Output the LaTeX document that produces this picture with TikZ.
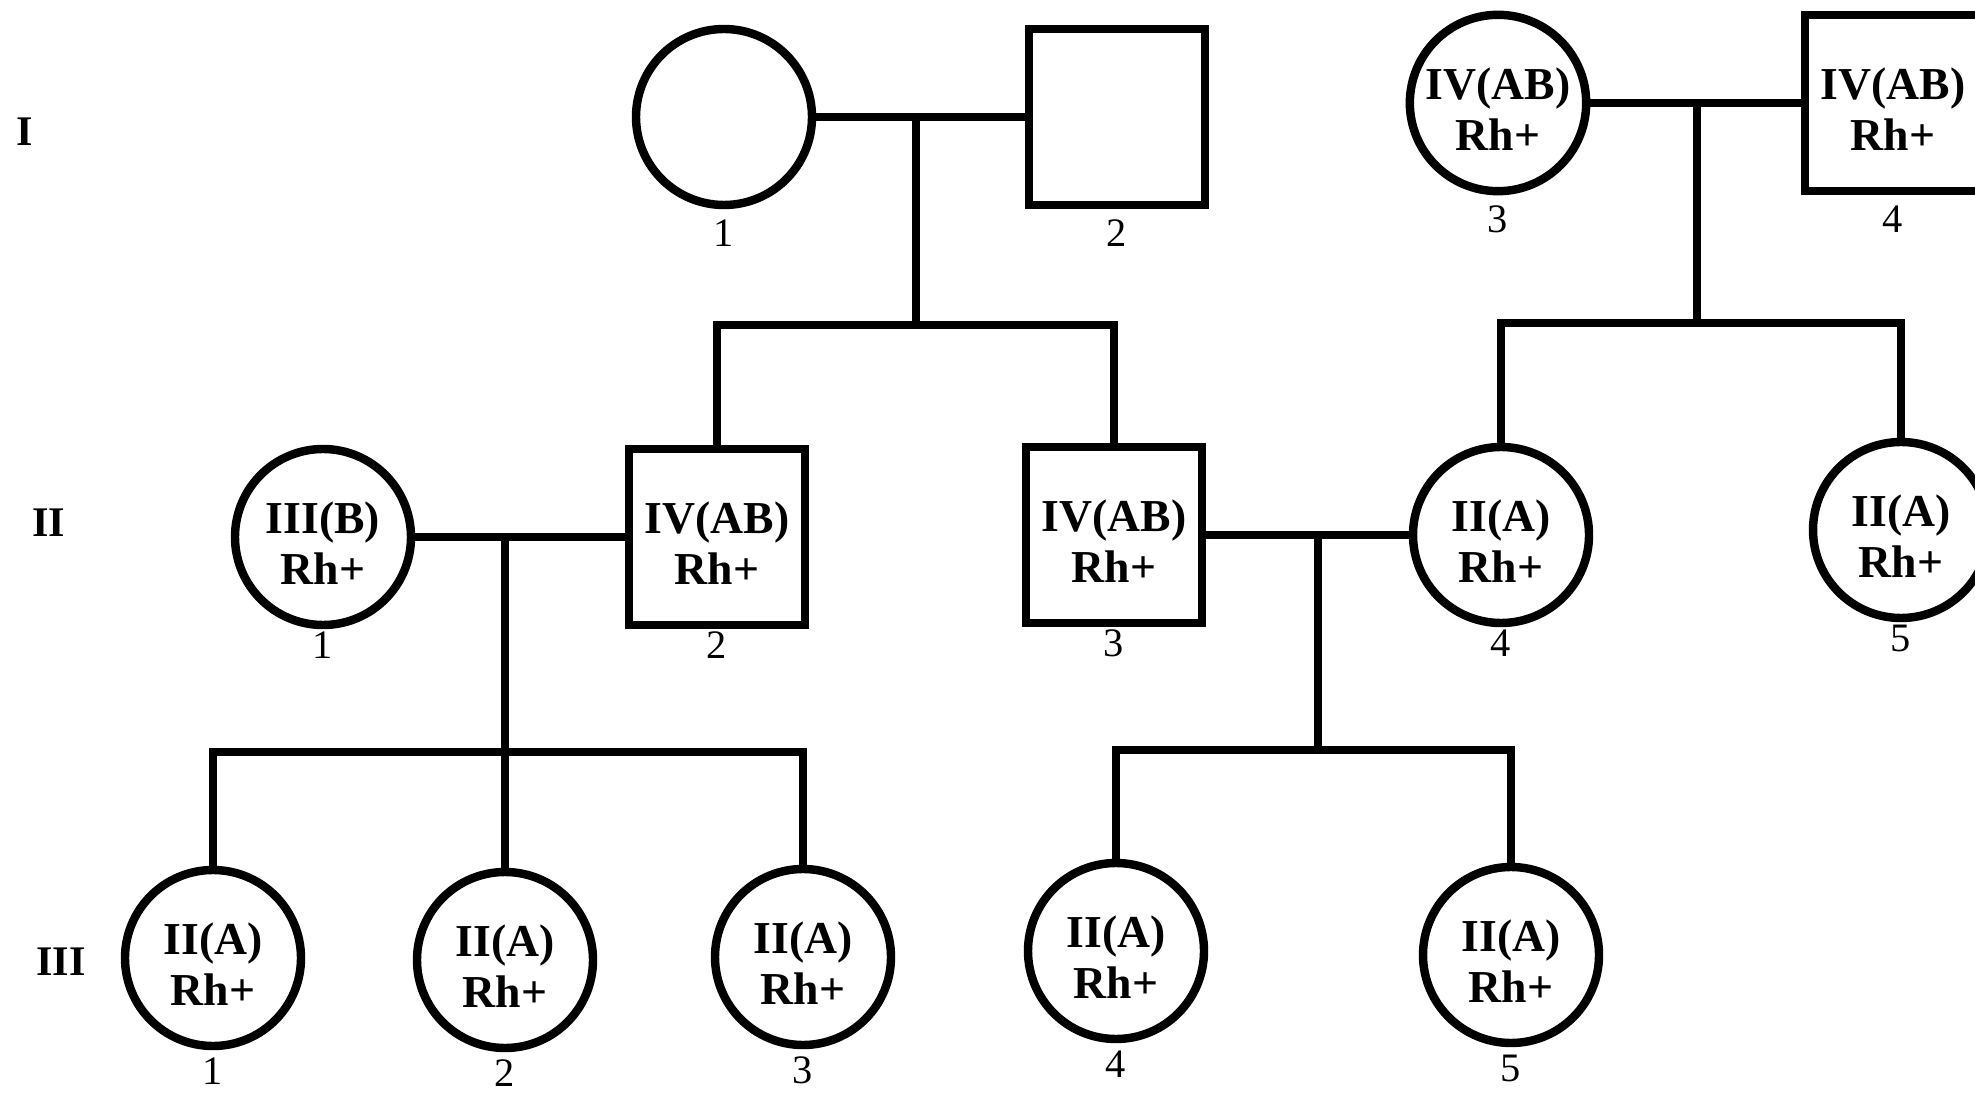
\documentclass[tikz,border=0pt]{standalone}
\usepackage{fontspec}
\setmainfont{Liberation Serif}
\usetikzlibrary{positioning}

% two-line blood group entry, set a little below the middle of its symbol
\newcommand{\bloodtype}[2]{\raisebox{-0.12cm}[\height][\depth]{%
  \begin{tabular}{@{}c@{}}#1\\#2\end{tabular}}}

\begin{document}
\begin{tikzpicture}[
  line width=2.4pt,
  female/.style={circle, draw, minimum size=1.76cm, inner sep=0pt,
                 font=\fontsize{13}{14.5}\selectfont\bfseries},
  male/.style={rectangle, draw, minimum size=1.76cm, inner sep=0pt,
               font=\fontsize{13}{14.5}\selectfont\bfseries},
  num/.style={font=\fontsize{11.5}{13}\selectfont, inner sep=3pt},
  gen/.style={font=\fontsize{12}{14}\selectfont\bfseries}
]
\useasboundingbox (0,0) rectangle (19.75,-10.95);

% Generation marks
\node[gen] (genI)   at (0.25,-1.32) {I};
\node[gen] (genII)  at (0.49,-5.23) {II};
\node[gen] (genIII) at (0.61,-9.62) {III};

% Generation I
\begin{scope}[label distance=-0.04cm]
\node[female, label={[num]below:1}] (I1) at (7.24,-1.17) {};
\node[male, label={[num]below:2}] (I2) at (11.17,-1.17) {};
\node[female, label={[num]below:3}] (I3) at (14.98,-1.03) {\bloodtype{IV(AB)}{Rh+}};
\node[male, label={[num]below:4}] (I4) at (18.93,-1.03) {\bloodtype{IV(AB)}{Rh+}};
\end{scope}

% Generation II
\begin{scope}[label distance=-0.12cm]
\node[female, label={[num]below:1}] (II1) at (3.23,-5.37) {\bloodtype{III(B)}{Rh+}};
\node[male, label={[num]below:2}] (II2) at (7.17,-5.37) {\bloodtype{IV(AB)}{Rh+}};
\node[male, label={[num]below:3}] (II3) at (11.14,-5.35) {\bloodtype{IV(AB)}{Rh+}};
\node[female, label={[num]below:4}] (II4) at (15.01,-5.35) {\bloodtype{II(A)}{Rh+}};
\node[female, label={[num]below:5}] (II5) at (19.01,-5.30) {\bloodtype{II(A)}{Rh+}};
\end{scope}

% Generation III
\begin{scope}[label distance=-0.07cm]
\node[female, label={[num]below:1}] (III1) at (2.13,-9.58) {\bloodtype{II(A)}{Rh+}};
\node[female, label={[num]below:2}] (III2) at (5.05,-9.60) {\bloodtype{II(A)}{Rh+}};
\node[female, label={[num]below:3}] (III3) at (8.03,-9.57) {\bloodtype{II(A)}{Rh+}};
\node[female, label={[num]below:4}] (III4) at (11.16,-9.51) {\bloodtype{II(A)}{Rh+}};
\node[female, label={[num]below:5}] (III5) at (15.11,-9.55) {\bloodtype{II(A)}{Rh+}};
\end{scope}

% Couples and the points where their children hang
\coordinate (u1) at (9.16,-1.17);
\coordinate (s1) at (9.16,-3.25);
\coordinate (u2) at (16.97,-1.03);
\coordinate (s2) at (16.97,-3.23);
\coordinate (u3) at (5.05,-5.37);
\coordinate (s3) at (5.05,-7.52);
\coordinate (u4) at (13.18,-5.35);
\coordinate (s4) at (13.18,-7.50);

\draw (I1) -- (I2);
\draw (I3) -- (I4);
\draw (II1) -- (II2);
\draw (II3) -- (II4);

\draw (u1) -- (s1);
\draw (u2) -- (s2);
\draw (u3) -- (III2.north);
\draw (u4) -- (s4);

% Sibship lines
\draw (II2.north) |- (s1) -| (II3.north);
\draw (II4.north) |- (s2) -| (II5.north);
\draw (III1.north) |- (s3) -| (III3.north);
\draw (III4.north) |- (s4) -| (III5.north);

\end{tikzpicture}
\end{document}
